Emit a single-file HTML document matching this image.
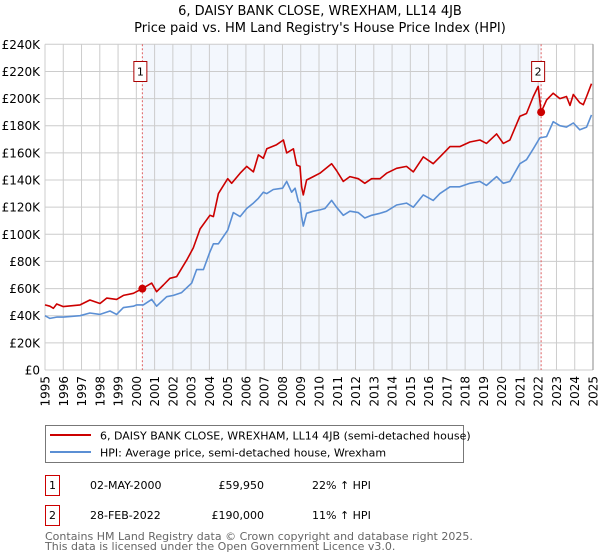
<!DOCTYPE html>
<html><head><meta charset="utf-8"><style>
body{margin:0;background:#fff}
svg{display:block;font-family:"DejaVu Sans","Liberation Sans",sans-serif}
</style></head><body>
<svg id="c" width="600" height="560" viewBox="0 0 600 560">
<text x="320" y="15" text-anchor="middle" font-size="13" fill="#000">6, DAISY BANK CLOSE, WREXHAM, LL14 4JB</text>
<text x="320" y="32" text-anchor="middle" font-size="13" fill="#000">Price paid vs. HM Land Registry's House Price Index (HPI)</text>
<g id="plot"></g>
<g>
<rect x="45.5" y="425.5" width="418" height="37" fill="#fff" stroke="#777"/>
<line x1="50" y1="435" x2="91" y2="435" stroke="#cc0000" stroke-width="2"/>
<text x="100" y="439.5" font-size="11">6, DAISY BANK CLOSE, WREXHAM, LL14 4JB (semi-detached house)</text>
<line x1="50" y1="452" x2="91" y2="452" stroke="#5b8fd4" stroke-width="2"/>
<text x="100" y="456.5" font-size="11">HPI: Average price, semi-detached house, Wrexham</text>
</g>
<g font-size="11">
<rect x="45.5" y="475.5" width="14" height="20" fill="none" stroke="#cc0000"/>
<text x="52.5" y="489" text-anchor="middle">1</text>
<text x="90" y="489">02-MAY-2000</text>
<text x="264" y="489" text-anchor="end">£59,950</text>
<text x="312" y="489">22% ↑ HPI</text>
<rect x="45.5" y="505.5" width="14" height="20" fill="none" stroke="#cc0000"/>
<text x="52.5" y="519" text-anchor="middle">2</text>
<text x="90" y="519">28-FEB-2022</text>
<text x="264" y="519" text-anchor="end">£190,000</text>
<text x="312" y="519">11% ↑ HPI</text>
</g>
<text x="45" y="540" font-size="11" fill="#666">Contains HM Land Registry data © Crown copyright and database right 2025.</text>
<text x="45" y="550" font-size="11" fill="#666">This data is licensed under the Open Government Licence v3.0.</text>
</svg>
<script>
const hpiYears=[1995.0,1995.27,1995.64,1996.0,1996.92,1997.46,1998.01,1998.56,1998.92,1999.29,1999.84,2000.02,2000.38,2000.84,2001.11,2001.66,2002.03,2002.48,2003.03,2003.3,2003.67,2004.03,2004.22,2004.49,2005.0,2005.31,2005.68,2006.04,2006.41,2006.68,2006.95,2007.14,2007.5,2008.01,2008.23,2008.5,2008.69,2008.87,2008.96,2009.05,2009.14,2009.32,2009.69,2010.05,2010.33,2010.69,2010.96,2011.33,2011.69,2012.15,2012.51,2012.88,2013.34,2013.7,2014.25,2014.79,2015.16,2015.71,2016.25,2016.62,2017.17,2017.71,2018.26,2018.81,2019.17,2019.72,2020.09,2020.45,2021.0,2021.36,2021.73,2022.09,2022.46,2022.82,2023.19,2023.55,2023.92,2024.28,2024.65,2024.92];
const hpiValues=[40,38,39,39,40,42,41,43.5,41,46,47,48,48,52,47,54,55,57,64,74,74,87,93,93,103,116,113,119,123,126.5,131,130,133,134,139,131,134,124,123,113,106,115.5,117,118,119,125,120,114,117,116,112,114,115.5,117,121.6,123,120,129,125,130,135,135,137.6,139,136,142.5,137.6,139,152,155,163,171,172,183,180,179,182,177,179,188];
const ppYears=[1995.0,1995.27,1995.46,1995.64,1996.0,1996.92,1997.46,1998.01,1998.38,1998.92,1999.29,1999.84,2000.33,2000.84,2001.11,2001.48,2001.84,2002.21,2002.76,2003.12,2003.49,2004.03,2004.22,2004.49,2005.0,2005.22,2005.68,2006.04,2006.41,2006.68,2006.95,2007.14,2007.68,2008.05,2008.23,2008.6,2008.78,2008.96,2009.05,2009.14,2009.32,2009.69,2010.05,2010.69,2010.96,2011.33,2011.69,2012.15,2012.51,2012.88,2013.34,2013.7,2014.25,2014.79,2015.16,2015.71,2016.25,2016.62,2017.17,2017.71,2018.26,2018.81,2019.17,2019.72,2020.09,2020.45,2021.0,2021.36,2021.73,2022.0,2022.16,2022.46,2022.82,2023.19,2023.55,2023.74,2023.92,2024.28,2024.47,2024.65,2024.92];
const ppValues=[48,47,45.5,48.6,46.7,48,51.6,49,53,52,55,56.5,59.95,64,57.7,62.6,67.6,68.8,81,90,104,114,113,130,141,137.6,145,150,146,158.5,156,163,166,169.5,160,163,151,150,135,129,140,142.5,145,152,147,139,142.5,141,137.6,141,141,145,148.6,150,146,157,152,157,164.6,164.6,168,169.5,167,174,167,169.5,187,189,201.5,209,190,199,204,200,201.5,195,203,197,195.5,201.5,211];
const yTickValues=[0,20,40,60,80,100,120,140,160,180,200,220,240];
const xTickYears=[1995,1996,1997,1998,1999,2000,2001,2002,2003,2004,2005,2006,2007,2008,2009,2010,2011,2012,2013,2014,2015,2016,2017,2018,2019,2020,2021,2022,2023,2024,2025];
const saleYears=[2000.33,2022.16];
const saleValues=[59.95,190];
const saleLabels=["1","2"];

const X0=45,X1=593,Y0=370,Y1=44.3;
const xs=y=>X0+(y-1995)/30*(X1-X0);
const ys=v=>Y0-v/240*(Y0-Y1);
const NS="http://www.w3.org/2000/svg";
const g=document.getElementById('plot');
function mk(t,a){const e=document.createElementNS(NS,t);for(const k in a)e.setAttribute(k,a[k]);g.appendChild(e);return e;}
let e=mk('rect',{x:X0,y:Y1,width:X1-X0,height:Y0-Y1,fill:'#fff'});


e=mk('rect',{x:xs(saleYears[0]),y:Y1,width:xs(saleYears[1])-xs(saleYears[0]),height:Y0-Y1,fill:'#eef3fc',opacity:0.7});


yTickValues.forEach(v=>{
 const l=mk('line',{x1:X0,x2:X1,y1:ys(v),y2:ys(v),stroke:'#ccc','stroke-width':1});
 
 
 const t=mk('text',{x:40,y:ys(v)+4.5,'text-anchor':'end','font-size':12});
 t.textContent=v===0?'£0':'£'+v+'K';
 
 
});
xTickYears.forEach(y=>{
 const l=mk('line',{x1:xs(y),x2:xs(y),y1:Y1,y2:Y0,stroke:'#ccc','stroke-width':1});
 
 
 const t=mk('text',{x:0,y:0,'text-anchor':'end','font-size':12,transform:`translate(${xs(y)+4.5},${Y0+6}) rotate(-90)`});
 t.textContent=y;
 
 
});
saleYears.forEach((y,i)=>{
 const l=mk('line',{x1:xs(y),x2:xs(y),y1:Y1,y2:Y0,stroke:'#e06060','stroke-width':1,'stroke-dasharray':'2,2'});
 
 
});
function path(xa,va,col,name){
 const d=xa.map((y,i)=>(i?'L':'M')+xs(y).toFixed(1)+','+ys(va[i]).toFixed(1)).join('');
 const p=mk('path',{d:d,fill:'none',stroke:col,'stroke-width':1.6,'stroke-linejoin':'round'});
 
 
}
path(hpiYears,hpiValues,'#5b8fd4','hpi-line');
path(ppYears,ppValues,'#cc0000','price-paid-line');
saleYears.forEach((y,i)=>{
 const c=mk('circle',{cx:xs(y),cy:ys(saleValues[i]),r:4,fill:'#cc0000'});
 
 
 const bx=xs(y)-(i==0?2:3);
 const r=mk('rect',{x:bx-6.5,y:61.5,width:13,height:20,fill:'#fff',stroke:'#aa0000'});
 
 
 const t=mk('text',{x:bx,y:75.5,'text-anchor':'middle','font-size':11});
 t.textContent=saleLabels[i];
 
 
});
e=mk('line',{x1:X1,x2:X1,y1:Y1,y2:Y0,stroke:'#888'});


</script>
</body></html>
